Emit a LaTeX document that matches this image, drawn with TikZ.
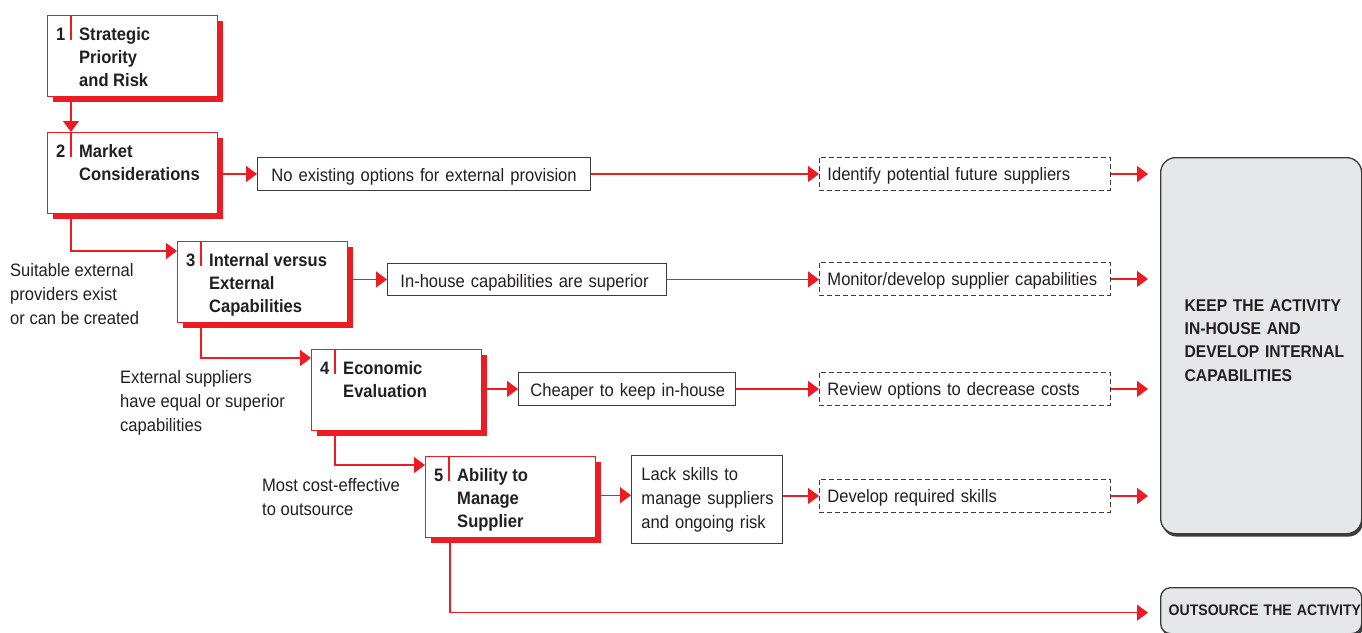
\documentclass[tikz,border=0pt]{standalone}
\usepackage{fontspec}
\setmainfont[FakeStretch=0.92]{Liberation Sans}
\usetikzlibrary{arrows.meta,calc,shadows}
\definecolor{cred}{HTML}{ED1C24}
\definecolor{ctext}{HTML}{231F20}
\definecolor{cgray}{HTML}{E6E7E8}
\definecolor{cline}{HTML}{3C3C3C}
\newcommand\mystrut{\rule{0pt}{14pt}}
\tikzset{
  conn/.style={draw=cred, line width=1.2pt, -{Triangle[length=11pt,width=16pt]}},
  rbox/.style={draw=cred, line width=1.4pt, fill=white, minimum width=170pt, minimum height=81pt,
    anchor=north west, inner sep=0pt,
    general shadow={shadow xshift=5pt, shadow yshift=-5pt, fill=cred}},
  rdiv/.style={draw=cred, line width=1.4pt},
  rnum/.style={anchor=base west, inner sep=0pt, font=\fontsize{18}{23}\selectfont\bfseries},
  rtitle/.style={anchor=north west, inner sep=0pt, align=left, font=\fontsize{18}{23}\selectfont\bfseries},
  tbox/.style={draw=cline, line width=0.9pt, fill=white, anchor=north west, align=left,
    inner ysep=0pt, font=\fontsize{18}{24}\selectfont},
  oneline/.style={text height=16pt, text depth=0pt},
  dbox/.style={tbox, text height=14pt, text depth=1pt, dash pattern=on 5pt off 3pt, inner xsep=8pt, text width=275pt, minimum height=33pt},
  lbl/.style={anchor=west, inner sep=0pt, align=left, font=\fontsize{18}{24}\selectfont},
  gbox/.style={draw=cline, line width=1.3pt, fill=cgray, rounded corners=15pt, anchor=north west,
    align=left, inner ysep=0pt,
    general shadow={shadow xshift=1.5pt, shadow yshift=-3pt, fill=cline, rounded corners=15pt}},
}
\begin{document}
\begin{tikzpicture}[x=1pt,y=-1pt,text=ctext]
\useasboundingbox (0,0) rectangle (1362,632);

% red step boxes
\node[rbox] (b1) at (47,15) {};
\node[rbox] (b2) at (47,132) {};
\node[rbox] (b3) at (177,241) {};
\node[rbox] (b4) at (311,349) {};
\node[rbox] (b5) at (425,456) {};

\foreach \b/\n in {b1/1,b2/2,b3/3,b4/4,b5/5}{
  \draw[rdiv] ([xshift=24pt]\b.north west) -- ++(0,-25pt);
  \node[rnum] (\b n) at ($(\b.north west)+(9pt,-25.5pt)$) {\n};
}
\node[rtitle] (b1t) at ($(b1.north west)+(32pt,-11.5pt)$) {\mystrut Strategic\\Priority\\and Risk};
\node[rtitle] (b2t) at ($(b2.north west)+(32pt,-11.5pt)$) {\mystrut Market\\Considerations};
\node[rtitle] (b3t) at ($(b3.north west)+(32pt,-11.5pt)$) {\mystrut Internal versus\\External\\Capabilities};
\node[rtitle] (b4t) at ($(b4.north west)+(32pt,-11.5pt)$) {\mystrut Economic\\Evaluation};
\node[rtitle] (b5t) at ($(b5.north west)+(32pt,-11.5pt)$) {\mystrut Ability to\\Manage\\Supplier};

% outcome text boxes
\node[tbox, oneline, inner xsep=14pt, text width=305pt, minimum height=33pt] (t2) at (257,157)
  {\mbox{No existing options for external provision}};
\node[tbox, oneline, inner xsep=13pt, text width=253pt, minimum height=32pt] (t3) at (387,263)
  {\mbox{In-house capabilities are superior}};
\node[tbox, oneline, inner xsep=12pt, text width=193pt, minimum height=33pt] (t4) at (518,372)
  {\mbox{Cheaper to keep in-house}};
\node[tbox, inner xsep=10pt, text width=131pt, minimum height=88pt] (t5) at (631,455)
  {\mbox{Lack skills to}\\\mbox{manage suppliers}\\\mbox{and ongoing risk}\rule[-2pt]{0pt}{2pt}};

% dashed action boxes
\node[dbox] (d2) at (819,157) {\mbox{Identify potential future suppliers}};
\node[dbox] (d3) at (819,262) {\mbox{Monitor/develop supplier capabilities}};
\node[dbox] (d4) at (819,372) {\mbox{Review options to decrease costs}};
\node[dbox] (d5) at (819,479) {\mbox{Develop required skills}};

% result boxes
\node[gbox, inner xsep=24pt, text width=153pt, minimum height=376pt,
  font=\fontsize{17}{23.3}\selectfont\bfseries] (keep) at (1160,157)
  {\mbox{KEEP THE ACTIVITY}\\\mbox{IN-HOUSE AND}\\\mbox{DEVELOP INTERNAL}\\\mbox{CAPABILITIES}\rule[-11pt]{0pt}{11pt}};
\node[gbox, rounded corners=10pt, inner xsep=8pt, text width=185pt, minimum height=46pt,
  font=\fontsize{15.3}{20}\selectfont\bfseries,
  general shadow={shadow xshift=1.5pt, shadow yshift=-3pt, fill=cline, rounded corners=10pt}] (out) at (1160,587)
  {\mbox{OUTSOURCE THE ACTIVITY}};

% side labels
\node[lbl] (l1) at (10,294) {Suitable external\\providers exist\\or can be created};
\node[lbl] (l2) at (120,403) {External suppliers\\have equal or superior\\capabilities};
\node[lbl] (l3) at (262,497) {Most cost-effective\\to outsource};

% vertical chain
\draw[conn] ([xshift=24pt]b1.south west) -- ([xshift=24pt]b2.north west);
\draw[conn] ([xshift=24pt]b2.south west) |- ([yshift=-10pt]b3.north west);
\draw[conn] ([xshift=24pt]b3.south west) |- ([yshift=-9pt]b4.north west);
\draw[conn] ([xshift=24pt]b4.south west) |- ([yshift=-9pt]b5.north west);
\draw[conn, shorten >=12pt] ([xshift=25pt]b5.south west) |- ([yshift=-2pt]out.west);

% step -> outcome
\draw[conn] (b2.east |- t2.west) -- (t2.west);
\draw[conn] (b3.east |- t3.west) -- (t3.west);
\draw[conn] (b4.east |- t4.west) -- (t4.west);
\draw[conn] ([yshift=2pt]b5.east) -- ([yshift=2pt]b5.east -| t5.west);

% outcome -> action
\draw[conn] (t2.east) -- (t2.east -| d2.west);
\draw[conn] (t3.east) -- (t3.east -| d3.west);
\draw[conn] (t4.east) -- (t4.east -| d4.west);
\draw[conn] (d5.west -| t5.east) -- (d5.west);

% action -> keep
\foreach \d in {d2,d3,d4,d5}{
  \draw[conn, shorten >=12pt] (\d.east) -- (\d.east -| keep.west);
}
\end{tikzpicture}
\end{document}
